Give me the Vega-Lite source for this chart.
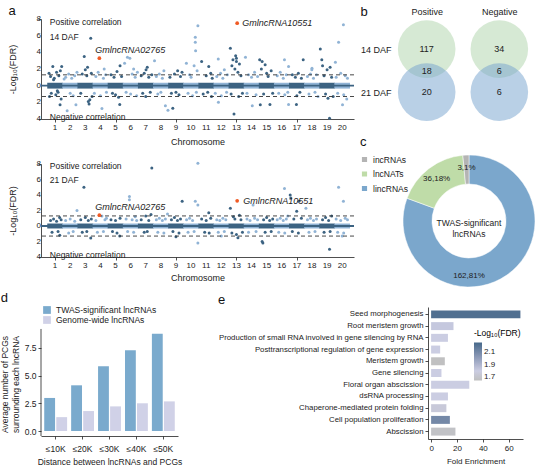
{
"$schema": "https://vega.github.io/schema/vega-lite/v6.json",
"background": "white",
"padding": {"left": 0, "top": 5, "right": 0, "bottom": 0},
"config": {
 "font": "Liberation Sans",
 "view": {"stroke": null},
 "axis": {"grid": false, "domainColor": "#222", "tickColor": "#222", "labelColor": "#222", "titleColor": "#222", "labelFontSize": 8, "titleFontSize": 9, "titleFontWeight": "normal", "tickSize": 3, "domainWidth": 0.8, "tickWidth": 0.8},
 "title": {"fontSize": 13, "fontWeight": "normal", "anchor": "start", "frame": "bounds", "color": "#111"},
 "legend": {"labelFontSize": 8.5, "labelColor": "#222"},
 "text": {"color": "#222"}
},
"datasets": {
 "one": [{}],
 "chroms": [{"c":1},{"c":2},{"c":3},{"c":4},{"c":5},{"c":6},{"c":7},{"c":8},{"c":9},{"c":10},{"c":11},{"c":12},{"c":13},{"c":14},{"c":15},{"c":16},{"c":17},{"c":18},{"c":19},{"c":20}],
 "yt": [{"t":-4,"lab":"4"},{"t":-2,"lab":"2"},{"t":0,"lab":"0"},{"t":2,"lab":"2"},{"t":4,"lab":"4"},{"t":6,"lab":"6"},{"t":8,"lab":"8"}],
 "m14": [
{"c":1,"x":0.85,"v":2.3},{"c":1,"x":1.44,"v":2.3},{"c":1,"x":0.63,"v":-1.3},{"c":1,"x":1.33,"v":-2.3},{"c":1,"x":0.6,"v":1.5},{"c":1,"x":0.7,"v":1.1},{"c":1,"x":0.95,"v":0.9},{"c":1,"x":1.1,"v":1.6},{"c":1,"x":1.25,"v":1.2},{"c":1,"x":1.35,"v":1.8},{"c":1,"x":0.75,"v":-0.9},{"c":1,"x":1.05,"v":-1.1},{"c":1,"x":1.2,"v":-0.8},{"c":1,"x":1.4,"v":-1.6},{"c":1,"x":0.9,"v":0.7},{"c":1,"x":1.15,"v":-0.6},
{"c":2,"x":1.8,"v":-3.0},{"c":2,"x":2.38,"v":-2.3},{"c":2,"x":1.7,"v":1.0},{"c":2,"x":1.9,"v":1.4},{"c":2,"x":2.1,"v":0.9},{"c":2,"x":2.3,"v":1.2},{"c":2,"x":2.0,"v":-0.9},{"c":2,"x":2.2,"v":-1.2},{"c":2,"x":1.6,"v":0.8},{"c":2,"x":2.45,"v":1.6},
{"c":3,"x":3.36,"v":5.7},{"c":3,"x":2.93,"v":3.5},{"c":3,"x":3.3,"v":-1.7},{"c":3,"x":3.2,"v":-1.9},{"c":3,"x":2.8,"v":1.4},{"c":3,"x":3.0,"v":1.9},{"c":3,"x":3.1,"v":1.2},{"c":3,"x":3.4,"v":1.5},{"c":3,"x":2.7,"v":-0.9},{"c":3,"x":3.25,"v":-2.2},{"c":3,"x":3.45,"v":-1.3},{"c":3,"x":3.15,"v":2.2},
{"c":4,"x":4.1,"v":-2.75},{"c":4,"x":3.7,"v":1.1},{"c":4,"x":3.85,"v":1.6},{"c":4,"x":4.2,"v":0.9},{"c":4,"x":4.35,"v":1.3},{"c":4,"x":3.6,"v":-0.9},{"c":4,"x":4.0,"v":-1.2},{"c":4,"x":4.4,"v":-0.8},{"c":4,"x":4.25,"v":2.0},
{"c":5,"x":5.28,"v":-2.25},{"c":5,"x":4.7,"v":1.3},{"c":5,"x":4.9,"v":1.0},{"c":5,"x":5.1,"v":1.7},{"c":5,"x":5.3,"v":2.4},{"c":5,"x":5.4,"v":1.1},{"c":5,"x":4.8,"v":-0.9},{"c":5,"x":5.0,"v":-1.1},{"c":5,"x":5.2,"v":-1.4},
{"c":6,"x":5.79,"v":3.4},{"c":6,"x":5.95,"v":3.3},{"c":6,"x":5.6,"v":2.7},{"c":6,"x":6.1,"v":1.4},{"c":6,"x":6.3,"v":1.0},{"c":6,"x":6.2,"v":2.0},{"c":6,"x":5.7,"v":-0.8},{"c":6,"x":6.0,"v":-1.0},{"c":6,"x":6.4,"v":-1.2},{"c":6,"x":6.45,"v":1.6},
{"c":7,"x":7.02,"v":1.9},{"c":7,"x":6.7,"v":1.2},{"c":7,"x":6.9,"v":1.5},{"c":7,"x":7.1,"v":2.2},{"c":7,"x":7.2,"v":1.0},{"c":7,"x":7.4,"v":1.3},{"c":7,"x":6.8,"v":-0.9},{"c":7,"x":7.0,"v":-1.3},{"c":7,"x":7.3,"v":-0.8},
{"c":8,"x":7.58,"v":3.0},{"c":8,"x":8.3,"v":-2.4},{"c":8,"x":8.47,"v":-2.95},{"c":8,"x":7.7,"v":1.1},{"c":8,"x":7.9,"v":1.4},{"c":8,"x":8.1,"v":0.9},{"c":8,"x":8.2,"v":1.8},{"c":8,"x":7.8,"v":-1.0},{"c":8,"x":8.0,"v":-0.8},
{"c":9,"x":8.79,"v":-2.7},{"c":9,"x":9.11,"v":1.8},{"c":9,"x":8.6,"v":1.0},{"c":9,"x":8.9,"v":1.4},{"c":9,"x":9.3,"v":1.1},{"c":9,"x":9.4,"v":1.6},{"c":9,"x":8.7,"v":-0.9},{"c":9,"x":9.2,"v":-1.1},{"c":9,"x":9.0,"v":-0.8},
{"c":10,"x":9.69,"v":2.7},{"c":10,"x":10.28,"v":5.8},{"c":10,"x":10.28,"v":5.2},{"c":10,"x":10.3,"v":4.2},{"c":10,"x":10.45,"v":7.2},{"c":10,"x":10.2,"v":2.4},{"c":10,"x":10.4,"v":1.8},{"c":10,"x":9.9,"v":1.3},{"c":10,"x":10.0,"v":1.0},{"c":10,"x":9.8,"v":-0.9},{"c":10,"x":10.1,"v":-1.2},{"c":10,"x":10.35,"v":-0.8},
{"c":11,"x":10.7,"v":2.9},{"c":11,"x":11.17,"v":2.3},{"c":11,"x":11.0,"v":1.2},{"c":11,"x":11.3,"v":1.5},{"c":11,"x":11.4,"v":0.9},{"c":11,"x":10.8,"v":-1.0},{"c":11,"x":11.1,"v":-0.8},{"c":11,"x":11.35,"v":-1.3},
{"c":12,"x":11.8,"v":3.2},{"c":12,"x":11.81,"v":-2.0},{"c":12,"x":11.7,"v":1.1},{"c":12,"x":11.95,"v":1.5},{"c":12,"x":12.1,"v":0.9},{"c":12,"x":12.2,"v":1.9},{"c":12,"x":12.4,"v":1.3},{"c":12,"x":11.6,"v":-0.9},{"c":12,"x":12.0,"v":-1.2},{"c":12,"x":12.35,"v":-0.8},
{"c":13,"x":12.6,"v":4.5},{"c":13,"x":12.77,"v":3.1},{"c":13,"x":13.0,"v":3.3},{"c":13,"x":13.0,"v":2.9},{"c":13,"x":12.84,"v":-3.4},{"c":13,"x":12.7,"v":2.4},{"c":13,"x":12.9,"v":2.0},{"c":13,"x":13.1,"v":1.6},{"c":13,"x":13.2,"v":2.6},{"c":13,"x":13.3,"v":1.2},{"c":13,"x":12.65,"v":-1.0},{"c":13,"x":13.15,"v":-1.3},{"c":13,"x":13.4,"v":-0.9},{"c":13,"x":12.95,"v":3.6},
{"c":14,"x":13.6,"v":3.4},{"c":14,"x":14.05,"v":-2.4},{"c":14,"x":13.8,"v":1.3},{"c":14,"x":14.0,"v":1.0},{"c":14,"x":14.2,"v":1.6},{"c":14,"x":14.4,"v":1.1},{"c":14,"x":13.7,"v":-0.9},{"c":14,"x":14.3,"v":-1.1},
{"c":15,"x":14.54,"v":3.1},{"c":15,"x":14.7,"v":2.9},{"c":15,"x":14.9,"v":2.5},{"c":15,"x":14.58,"v":-2.3},{"c":15,"x":15.22,"v":-2.25},{"c":15,"x":15.0,"v":1.5},{"c":15,"x":15.1,"v":1.1},{"c":15,"x":15.3,"v":1.8},{"c":15,"x":14.8,"v":-1.0},{"c":15,"x":15.4,"v":-0.9},{"c":15,"x":14.65,"v":2.0},
{"c":16,"x":16.18,"v":3.1},{"c":16,"x":16.45,"v":2.3},{"c":16,"x":15.7,"v":1.2},{"c":16,"x":15.9,"v":1.6},{"c":16,"x":16.1,"v":0.9},{"c":16,"x":16.3,"v":1.3},{"c":16,"x":15.8,"v":-0.9},{"c":16,"x":16.2,"v":-1.1},{"c":16,"x":16.4,"v":-0.8},{"c":16,"x":16.45,"v":-2.25},
{"c":17,"x":16.97,"v":-2.25},{"c":17,"x":17.42,"v":3.1},{"c":17,"x":16.7,"v":1.3},{"c":17,"x":16.9,"v":1.0},{"c":17,"x":17.1,"v":1.5},{"c":17,"x":17.3,"v":0.9},{"c":17,"x":17.0,"v":-1.2},{"c":17,"x":17.2,"v":-0.8},
{"c":18,"x":17.99,"v":1.9},{"c":18,"x":17.7,"v":1.1},{"c":18,"x":17.9,"v":1.4},{"c":18,"x":18.1,"v":0.9},{"c":18,"x":18.3,"v":1.3},{"c":18,"x":17.8,"v":-1.0},{"c":18,"x":18.2,"v":-0.8},{"c":18,"x":18.4,"v":-1.3},{"c":18,"x":18.0,"v":2.1},
{"c":19,"x":18.55,"v":4.4},{"c":19,"x":18.65,"v":3.1},{"c":19,"x":19.16,"v":-3.9},{"c":19,"x":19.06,"v":-1.5},{"c":19,"x":18.8,"v":1.2},{"c":19,"x":19.0,"v":1.9},{"c":19,"x":19.2,"v":2.2},{"c":19,"x":19.3,"v":1.0},{"c":19,"x":18.9,"v":-1.0},{"c":19,"x":19.4,"v":-1.3},{"c":19,"x":18.7,"v":2.4},
{"c":20,"x":20.08,"v":7.3},{"c":20,"x":19.76,"v":5.2},{"c":20,"x":20.02,"v":-2.3},{"c":20,"x":19.55,"v":2.8},{"c":20,"x":19.6,"v":1.0},{"c":20,"x":19.9,"v":1.5},{"c":20,"x":20.2,"v":1.2},{"c":20,"x":20.35,"v":0.9},{"c":20,"x":19.7,"v":-0.9},{"c":20,"x":20.1,"v":-1.1},{"c":20,"x":20.3,"v":-1.6}
 ],
 "m21": [
{"c":1,"x":1.31,"v":-1.2},{"c":1,"x":0.7,"v":0.7},{"c":1,"x":0.9,"v":0.9},{"c":1,"x":1.1,"v":0.6},{"c":1,"x":1.3,"v":1.1},{"c":1,"x":1.2,"v":-0.7},{"c":1,"x":0.8,"v":-0.8},{"c":1,"x":1.4,"v":0.8},
{"c":2,"x":2.45,"v":2.0},{"c":2,"x":1.7,"v":0.7},{"c":2,"x":2.0,"v":0.9},{"c":2,"x":2.2,"v":-0.7},{"c":2,"x":1.9,"v":-0.9},{"c":2,"x":2.3,"v":0.6},
{"c":3,"x":2.91,"v":5.0},{"c":3,"x":3.36,"v":-1.55},{"c":3,"x":2.7,"v":0.8},{"c":3,"x":3.0,"v":1.1},{"c":3,"x":3.2,"v":0.7},{"c":3,"x":3.4,"v":0.9},{"c":3,"x":2.8,"v":-0.8},{"c":3,"x":3.1,"v":-0.7},
{"c":4,"x":4.1,"v":1.3},{"c":4,"x":3.7,"v":0.7},{"c":4,"x":4.3,"v":0.8},{"c":4,"x":3.8,"v":-0.8},{"c":4,"x":4.2,"v":-0.7},{"c":4,"x":4.4,"v":1.0},
{"c":5,"x":5.28,"v":-1.3},{"c":5,"x":4.7,"v":0.8},{"c":5,"x":5.0,"v":0.7},{"c":5,"x":5.3,"v":1.0},{"c":5,"x":4.8,"v":-0.7},{"c":5,"x":5.1,"v":-0.9},
{"c":6,"x":5.92,"v":3.8},{"c":6,"x":5.92,"v":3.4},{"c":6,"x":5.7,"v":0.9},{"c":6,"x":6.1,"v":0.8},{"c":6,"x":6.3,"v":1.2},{"c":6,"x":5.8,"v":-0.7},{"c":6,"x":6.2,"v":-0.8},{"c":6,"x":6.4,"v":0.7},
{"c":7,"x":7.4,"v":7.5},{"c":7,"x":7.35,"v":1.5},{"c":7,"x":6.7,"v":0.8},{"c":7,"x":7.0,"v":1.3},{"c":7,"x":7.2,"v":0.7},{"c":7,"x":6.9,"v":-0.8},{"c":7,"x":7.1,"v":-0.7},
{"c":8,"x":8.44,"v":1.55},{"c":8,"x":7.7,"v":0.8},{"c":8,"x":7.9,"v":1.0},{"c":8,"x":8.1,"v":0.7},{"c":8,"x":8.3,"v":0.9},{"c":8,"x":7.8,"v":-0.8},{"c":8,"x":8.2,"v":-0.9},
{"c":9,"x":9.41,"v":3.2},{"c":9,"x":8.7,"v":0.8},{"c":9,"x":8.9,"v":1.1},{"c":9,"x":9.1,"v":0.7},{"c":9,"x":9.3,"v":0.9},{"c":9,"x":8.8,"v":-0.7},{"c":9,"x":9.2,"v":-0.9},{"c":9,"x":9.0,"v":-1.4},
{"c":10,"x":10.28,"v":3.2},{"c":10,"x":10.45,"v":8.1},{"c":10,"x":10.45,"v":2.7},{"c":10,"x":10.45,"v":-2.2},{"c":10,"x":9.7,"v":0.8},{"c":10,"x":9.9,"v":1.0},{"c":10,"x":10.1,"v":0.7},{"c":10,"x":9.8,"v":-0.8},{"c":10,"x":10.2,"v":-0.7},
{"c":11,"x":11.17,"v":1.7},{"c":11,"x":10.7,"v":0.9},{"c":11,"x":11.0,"v":0.7},{"c":11,"x":11.3,"v":1.0},{"c":11,"x":10.9,"v":-0.8},{"c":11,"x":11.2,"v":-0.9},
{"c":12,"x":11.7,"v":0.8},{"c":12,"x":11.9,"v":0.7},{"c":12,"x":12.1,"v":1.0},{"c":12,"x":12.3,"v":0.8},{"c":12,"x":11.8,"v":-0.8},{"c":12,"x":12.2,"v":-0.7},{"c":12,"x":12.0,"v":-1.3},
{"c":13,"x":12.6,"v":2.3},{"c":13,"x":13.1,"v":-1.5},{"c":13,"x":12.8,"v":1.2},{"c":13,"x":12.9,"v":0.9},{"c":13,"x":13.2,"v":1.4},{"c":13,"x":13.3,"v":0.8},{"c":13,"x":12.7,"v":-0.9},{"c":13,"x":13.4,"v":-0.8},{"c":13,"x":13.0,"v":-1.1},
{"c":14,"x":14.1,"v":2.7},{"c":14,"x":13.7,"v":0.9},{"c":14,"x":13.9,"v":0.7},{"c":14,"x":14.2,"v":1.0},{"c":14,"x":14.4,"v":0.8},{"c":14,"x":13.8,"v":-0.8},{"c":14,"x":14.3,"v":-0.7},
{"c":15,"x":14.7,"v":-2.0},{"c":15,"x":14.75,"v":-2.2},{"c":15,"x":14.8,"v":0.8},{"c":15,"x":15.0,"v":1.1},{"c":15,"x":15.2,"v":0.7},{"c":15,"x":15.4,"v":0.9},{"c":15,"x":14.9,"v":-0.8},{"c":15,"x":15.3,"v":-0.7},
{"c":16,"x":16.18,"v":4.85},{"c":16,"x":16.4,"v":1.3},{"c":16,"x":15.7,"v":0.8},{"c":16,"x":15.9,"v":1.0},{"c":16,"x":16.1,"v":0.7},{"c":16,"x":16.3,"v":0.9},{"c":16,"x":15.8,"v":-0.8},{"c":16,"x":16.2,"v":-0.9},
{"c":17,"x":16.56,"v":4.0},{"c":17,"x":16.6,"v":3.6},{"c":17,"x":17.14,"v":3.2},{"c":17,"x":16.99,"v":1.9},{"c":17,"x":16.8,"v":0.9},{"c":17,"x":17.3,"v":1.0},{"c":17,"x":16.7,"v":-0.7},{"c":17,"x":17.1,"v":-0.9},
{"c":18,"x":17.6,"v":2.3},{"c":18,"x":17.7,"v":0.8},{"c":18,"x":17.9,"v":1.0},{"c":18,"x":18.1,"v":0.7},{"c":18,"x":18.3,"v":0.9},{"c":18,"x":17.8,"v":-0.8},{"c":18,"x":18.2,"v":-0.7},
{"c":19,"x":19.16,"v":-3.0},{"c":19,"x":18.7,"v":0.8},{"c":19,"x":18.9,"v":1.1},{"c":19,"x":19.1,"v":0.7},{"c":19,"x":19.3,"v":1.3},{"c":19,"x":18.8,"v":-0.8},{"c":19,"x":19.2,"v":-0.7},
{"c":20,"x":19.76,"v":5.0},{"c":20,"x":20.08,"v":3.2},{"c":20,"x":20.0,"v":-1.3},{"c":20,"x":19.6,"v":0.9},{"c":20,"x":19.9,"v":0.7},{"c":20,"x":20.2,"v":1.0},{"c":20,"x":20.35,"v":0.8},{"c":20,"x":19.7,"v":-0.8},{"c":20,"x":20.1,"v":-0.9}
 ],
 "hl14": [{"name":"GmlncRNA02765","x":3.93,"v":3.3},{"name":"GmlncRNA10551","x":13.05,"v":7.5}],
 "hl21": [{"name":"GmlncRNA02765","x":3.93,"v":1.4},{"name":"GmlncRNA10551","x":13.05,"v":3.25}],
 "venn": [{"set":"Positive","stage":"14 DAF","n":117},{"set":"Positive","stage":"both","n":18},{"set":"Positive","stage":"21 DAF","n":20},{"set":"Negative","stage":"14 DAF","n":34},{"set":"Negative","stage":"both","n":6},{"set":"Negative","stage":"21 DAF","n":6}],
 "donut": [{"type":"lincRNAs","n":162,"lab":"162,81%"},{"type":"lncNATs","n":36,"lab":"36,18%"},{"type":"incRNAs","n":3,"lab":"3,1%"}],
 "dist": [
  {"dist":"≤10K","set":"TWAS-significant lncRNAs","avg":2.98},{"dist":"≤10K","set":"Genome-wide lncRNAs","avg":1.25},
  {"dist":"≤20K","set":"TWAS-significant lncRNAs","avg":4.12},{"dist":"≤20K","set":"Genome-wide lncRNAs","avg":1.8},
  {"dist":"≤30K","set":"TWAS-significant lncRNAs","avg":5.84},{"dist":"≤30K","set":"Genome-wide lncRNAs","avg":2.22},
  {"dist":"≤40K","set":"TWAS-significant lncRNAs","avg":7.28},{"dist":"≤40K","set":"Genome-wide lncRNAs","avg":2.5},
  {"dist":"≤50K","set":"TWAS-significant lncRNAs","avg":8.76},{"dist":"≤50K","set":"Genome-wide lncRNAs","avg":2.67}
 ],
 "go": [
  {"term":"Seed morphogenesis","fe":69,"fdr":2.22},
  {"term":"Root meristem growth","fe":17.3,"fdr":1.82},
  {"term":"Production of small RNA involved in gene silencing by RNA","fe":13,"fdr":1.8},
  {"term":"Posttranscriptional regulation of gene expression","fe":7,"fdr":1.8},
  {"term":"Meristem growth","fe":10.6,"fdr":1.66},
  {"term":"Gene silencing","fe":8,"fdr":1.8},
  {"term":"Floral organ abscission","fe":29.5,"fdr":1.8},
  {"term":"dsRNA processing","fe":13,"fdr":1.8},
  {"term":"Chaperone-mediated protein folding","fe":11.8,"fdr":1.76},
  {"term":"Cell population proliferation","fe":14.5,"fdr":2.1},
  {"term":"Abscission","fe":18.8,"fdr":1.68}
 ]
},
"resolve": {"scale": {"color": "independent"}},
"vconcat": [
 {"resolve": {"scale": {"color": "independent"}},
  "hconcat": [
  {"vconcat": [
   {"title": {"text": "a", "offset": -3},
    "width": 313, "height": 100,
    "layer": [
     {"data": {"name": "chroms"}, "mark": {"type": "bar", "size": 15.65},
      "encoding": {
       "x": {"field": "c", "type": "quantitative", "scale": {"domain": [0.4, 20.45], "nice": false, "zero": false},
             "axis": {"title": "Chromosome", "values": [1,2,3,4,5,6,7,8,9,10,11,12,13,14,15,16,17,18,19,20], "labels": false, "titlePadding": 15}},
       "y": {"datum": -0.35, "type": "quantitative", "scale": {"domain": [-4, 8], "nice": false, "zero": false},
             "axis": {"title": "-Log₁₀(FDR)", "values": [-4,-2,0,2,4,6,8], "labels": false, "titlePadding": 20}},
       "y2": {"datum": 0.35},
       "color": {"condition": {"test": "datum.c % 2 === 1", "value": "#3c6382"}, "value": "#90b3d5"}}},
     {"data": {"name": "chroms"}, "mark": {"type": "text", "fontSize": 8, "baseline": "top", "dy": 5},
      "encoding": {"x": {"field": "c", "type": "quantitative"}, "y": {"datum": -4}, "text": {"field": "c"}}},
     {"data": {"name": "yt"}, "mark": {"type": "text", "fontSize": 8, "align": "right", "baseline": "middle", "dx": -5},
      "encoding": {"x": {"datum": 0.4}, "y": {"field": "t", "type": "quantitative"}, "text": {"field": "lab"}}},
     {"data": {"name": "m14"}, "mark": {"type": "circle", "size": 9, "opacity": 1},
      "encoding": {"x": {"field": "x", "type": "quantitative"}, "y": {"field": "v", "type": "quantitative"},
       "color": {"condition": {"test": "datum.c % 2 === 1", "value": "#3c6382"}, "value": "#90b3d5"}}},
     {"data": {"name": "one"}, "mark": {"type": "rule", "color": "#3c6382", "strokeWidth": 1.8}, "encoding": {"y": {"datum": 0}}},
     {"data": {"name": "one"}, "mark": {"type": "rule", "color": "#333", "strokeWidth": 0.9, "strokeDash": [4, 3]}, "encoding": {"y": {"datum": 1.3}}},
     {"data": {"name": "one"}, "mark": {"type": "rule", "color": "#333", "strokeWidth": 0.9, "strokeDash": [4, 3]}, "encoding": {"y": {"datum": -1.3}}},
     {"data": {"name": "hl14"}, "mark": {"type": "circle", "size": 14, "opacity": 1, "color": "#f05a24"},
      "encoding": {"x": {"field": "x", "type": "quantitative"}, "y": {"field": "v", "type": "quantitative"}}},
     {"data": {"name": "hl14"}, "transform": [{"filter": "datum.name === 'GmlncRNA02765'"}],
      "mark": {"type": "text", "align": "left", "dx": -4, "dy": -8, "fontSize": 9, "fontStyle": "italic"},
      "encoding": {"x": {"field": "x", "type": "quantitative"}, "y": {"field": "v", "type": "quantitative"}, "text": {"field": "name"}}},
     {"data": {"name": "hl14"}, "transform": [{"filter": "datum.name === 'GmlncRNA10551'"}],
      "mark": {"type": "text", "align": "left", "dx": 5, "dy": 0, "fontSize": 9, "fontStyle": "italic"},
      "encoding": {"x": {"field": "x", "type": "quantitative"}, "y": {"field": "v", "type": "quantitative"}, "text": {"field": "name"}}},
     {"data": {"name": "one"}, "mark": {"type": "text", "align": "left", "fontSize": 8.5}, "encoding": {"x": {"datum": 0.65}, "y": {"datum": 7.6}, "text": {"value": "Positive correlation"}}},
     {"data": {"name": "one"}, "mark": {"type": "text", "align": "left", "fontSize": 8.5}, "encoding": {"x": {"datum": 0.65}, "y": {"datum": 5.9}, "text": {"value": "14 DAF"}}},
     {"data": {"name": "one"}, "mark": {"type": "text", "align": "left", "fontSize": 8.5}, "encoding": {"x": {"datum": 0.65}, "y": {"datum": -3.75}, "text": {"value": "Negative correlation"}}}
    ]},
   {"width": 313, "height": 93,
    "layer": [
     {"data": {"name": "chroms"}, "mark": {"type": "bar", "size": 15.65},
      "encoding": {
       "x": {"field": "c", "type": "quantitative", "scale": {"domain": [0.4, 20.45], "nice": false, "zero": false},
             "axis": {"title": "Chromosome", "values": [1,2,3,4,5,6,7,8,9,10,11,12,13,14,15,16,17,18,19,20], "labels": false, "titlePadding": 13}},
       "y": {"datum": -0.32, "type": "quantitative", "scale": {"domain": [-4, 8], "nice": false, "zero": false},
             "axis": {"title": "-Log₁₀(FDR)", "values": [-4,-2,0,2,4,6,8], "labels": false, "titlePadding": 20}},
       "y2": {"datum": 0.32},
       "color": {"condition": {"test": "datum.c % 2 === 1", "value": "#3c6382"}, "value": "#90b3d5"}}},
     {"data": {"name": "chroms"}, "mark": {"type": "text", "fontSize": 8, "baseline": "top", "dy": 5},
      "encoding": {"x": {"field": "c", "type": "quantitative"}, "y": {"datum": -4}, "text": {"field": "c"}}},
     {"data": {"name": "yt"}, "mark": {"type": "text", "fontSize": 8, "align": "right", "baseline": "middle", "dx": -5},
      "encoding": {"x": {"datum": 0.4}, "y": {"field": "t", "type": "quantitative"}, "text": {"field": "lab"}}},
     {"data": {"name": "m21"}, "mark": {"type": "circle", "size": 9, "opacity": 1},
      "encoding": {"x": {"field": "x", "type": "quantitative"}, "y": {"field": "v", "type": "quantitative"},
       "color": {"condition": {"test": "datum.c % 2 === 1", "value": "#3c6382"}, "value": "#90b3d5"}}},
     {"data": {"name": "one"}, "mark": {"type": "rule", "color": "#3c6382", "strokeWidth": 1.8}, "encoding": {"y": {"datum": 0}}},
     {"data": {"name": "one"}, "mark": {"type": "rule", "color": "#333", "strokeWidth": 0.9, "strokeDash": [4, 3]}, "encoding": {"y": {"datum": 1.3}}},
     {"data": {"name": "one"}, "mark": {"type": "rule", "color": "#333", "strokeWidth": 0.9, "strokeDash": [4, 3]}, "encoding": {"y": {"datum": -1.3}}},
     {"data": {"name": "hl21"}, "mark": {"type": "circle", "size": 14, "opacity": 1, "color": "#f05a24"},
      "encoding": {"x": {"field": "x", "type": "quantitative"}, "y": {"field": "v", "type": "quantitative"}}},
     {"data": {"name": "hl21"}, "transform": [{"filter": "datum.name === 'GmlncRNA02765'"}],
      "mark": {"type": "text", "align": "left", "dx": -4, "dy": -8, "fontSize": 9, "fontStyle": "italic"},
      "encoding": {"x": {"field": "x", "type": "quantitative"}, "y": {"field": "v", "type": "quantitative"}, "text": {"field": "name"}}},
     {"data": {"name": "hl21"}, "transform": [{"filter": "datum.name === 'GmlncRNA10551'"}],
      "mark": {"type": "text", "align": "left", "dx": 6, "dy": 0, "fontSize": 9, "fontStyle": "italic"},
      "encoding": {"x": {"field": "x", "type": "quantitative"}, "y": {"field": "v", "type": "quantitative"}, "text": {"field": "name"}}},
     {"data": {"name": "one"}, "mark": {"type": "text", "align": "left", "fontSize": 8.5}, "encoding": {"x": {"datum": 0.65}, "y": {"datum": 7.7}, "text": {"value": "Positive correlation"}}},
     {"data": {"name": "one"}, "mark": {"type": "text", "align": "left", "fontSize": 8.5}, "encoding": {"x": {"datum": 0.65}, "y": {"datum": 5.9}, "text": {"value": "21 DAF"}}},
     {"data": {"name": "one"}, "mark": {"type": "text", "align": "left", "fontSize": 8.5}, "encoding": {"x": {"datum": 0.65}, "y": {"datum": -3.75}, "text": {"value": "Negative correlation"}}}
    ]}
  ], "spacing": 13},
  {"resolve": {"scale": {"color": "independent"}},
   "vconcat": [
   {"title": {"text": "b", "offset": -12},
    "width": 138, "height": 86,
    "data": {"name": "venn"},
    "layer": [
     {"transform": [{"filter": "datum.stage !== 'both'"}],
      "mark": {"type": "circle", "size": 3318, "opacity": 0.5},
      "encoding": {
       "x": {"field": "set", "type": "nominal", "scale": {"type": "point", "domain": ["Positive", "Negative"], "padding": 0.45},
             "axis": {"orient": "top", "title": null, "domain": false, "ticks": false, "labelAngle": 0, "labelFontSize": 9, "labelPadding": 3}},
       "y": {"field": "stage", "type": "nominal", "scale": {"type": "point", "domain": ["14 DAF", "both", "21 DAF"], "padding": 1, "align": 0.7},
             "axis": {"title": null, "domain": false, "ticks": false, "labelFontSize": 9, "labelPadding": 3, "labelExpr": "datum.value === 'both' ? '' : datum.value"}},
       "color": {"field": "stage", "type": "nominal", "scale": {"domain": ["14 DAF", "21 DAF"], "range": ["#add3a9", "#73a1cd"]}, "legend": null}}},
     {"mark": {"type": "text", "fontSize": 9},
      "encoding": {"x": {"field": "set", "type": "nominal"}, "y": {"field": "stage", "type": "nominal"}, "text": {"field": "n"}}}
    ]},
   {"title": {"text": "c", "offset": 5},
    "width": 150, "height": 130,
    "data": {"name": "donut"},
    "layer": [
     {"mark": {"type": "arc", "innerRadius": 37, "outerRadius": 66, "stroke": "white", "strokeWidth": 0.5},
      "encoding": {
       "theta": {"field": "n", "type": "quantitative", "stack": true},
       "order": {"field": "n", "type": "quantitative", "sort": "descending"},
       "color": {"field": "type", "type": "nominal", "scale": {"domain": ["incRNAs", "lncNATs", "lincRNAs"], "range": ["#b4b4b4", "#bfdca8", "#7ba7cc"]},
                 "legend": {"orient": "none", "legendX": -34, "legendY": -1, "title": null, "symbolType": "square", "symbolSize": 45, "labelFontSize": 8.5, "rowPadding": 1.5}}}},
     {"mark": {"type": "text", "fontSize": 8, "radius": 53},
      "encoding": {"theta": {"field": "n", "type": "quantitative", "stack": true}, "order": {"field": "n", "type": "quantitative", "sort": "descending"},
                   "text": {"condition": {"test": "datum.type === 'lincRNAs'", "value": ""}, "field": "lab"}}},
     {"transform": [{"filter": "datum.type === 'lincRNAs'"}],
      "mark": {"type": "text", "fontSize": 8, "dy": 55},
      "encoding": {"text": {"field": "lab"}}},
     {"transform": [{"filter": "datum.type === 'lincRNAs'"}],
      "mark": {"type": "text", "fontSize": 8.5, "dy": 2, "lineHeight": 11},
      "encoding": {"text": {"value": ["TWAS-significant", "lncRNAs"]}}}
    ]}
  ], "spacing": 15}
 ], "spacing": 5},
 {"resolve": {"scale": {"color": "independent"}},
  "hconcat": [
  {"title": {"text": "d", "offset": 0},
   "width": 137, "height": 129,
   "layer": [
    {"data": {"name": "dist"},
     "mark": {"type": "bar"},
     "encoding": {
      "x": {"field": "dist", "type": "nominal", "sort": ["≤10K", "≤20K", "≤30K", "≤40K", "≤50K"], "scale": {"paddingInner": 0.15, "paddingOuter": 0.12},
            "axis": {"title": "Distance between lncRNAs and PCGs", "labelAngle": 0, "labelFontSize": 8.5, "titleFontSize": 8.5, "labelPadding": 5, "titlePadding": 5}},
      "xOffset": {"field": "set", "type": "nominal", "sort": ["TWAS-significant lncRNAs", "Genome-wide lncRNAs"], "scale": {"paddingInner": 0.1}},
      "y": {"field": "avg", "type": "quantitative", "scale": {"domain": [-0.45, 11.18], "nice": false, "zero": false},
            "axis": {"title": ["Average number of PCGs", "surrounding each lncRNA"], "values": [0, 2.5, 5, 7.5], "format": ".1f", "domain": false, "titleFontSize": 8.5, "labelFontSize": 8.5, "titleY": 77}},
      "color": {"field": "set", "type": "nominal", "scale": {"domain": ["TWAS-significant lncRNAs", "Genome-wide lncRNAs"], "range": ["#7aaacd", "#d0d1e7"]},
                "legend": {"orient": "none", "legendX": 1, "legendY": -2, "direction": "vertical", "title": null, "symbolType": "square", "symbolSize": 60, "labelFontSize": 8.5, "rowPadding": 0}}
     }},
    {"data": {"name": "one"}, "mark": {"type": "rule", "color": "#222", "strokeWidth": 0.8},
     "encoding": {"x": {"datum": 0, "type": "quantitative", "scale": {"domain": [0, 1]}, "axis": null}, "y": {"datum": -0.45}, "y2": {"datum": 9.2}}}
   ],
   "resolve": {"scale": {"x": "independent"}}},
  {"title": {"text": "e", "offset": 0},
   "width": 95, "height": 132,
   "data": {"name": "go"},
   "mark": {"type": "bar"},
   "encoding": {
    "y": {"field": "term", "type": "nominal", "sort": ["Seed morphogenesis", "Root meristem growth", "Production of small RNA involved in gene silencing by RNA", "Posttranscriptional regulation of gene expression", "Meristem growth", "Gene silencing", "Floral organ abscission", "dsRNA processing", "Chaperone-mediated protein folding", "Cell population proliferation", "Abscission"],
          "scale": {"paddingInner": 0.32, "paddingOuter": 0.29},
          "axis": {"title": null, "labelFontSize": 7.8, "labelLimit": 0, "labelPadding": 2}},
    "x": {"field": "fe", "type": "quantitative", "scale": {"domain": [-2.4, 71], "nice": false, "zero": false},
          "axis": {"title": "Fold Enrichment", "values": [0, 20, 40, 60], "labelFontSize": 8, "titleFontSize": 8, "titlePadding": 5}},
    "color": {"field": "fdr", "type": "quantitative", "scale": {"domain": [1.65, 1.8, 2.25], "range": ["#bfbfbf", "#cbcde2", "#46698a"]},
              "legend": {"orient": "none", "legendX": 46, "legendY": 22, "title": "-Log₁₀(FDR)", "direction": "vertical", "gradientLength": 38, "gradientThickness": 8, "values": [1.7, 1.9, 2.1], "titleFontSize": 8.5, "titleFontWeight": "normal", "labelFontSize": 8}}
   }}
 ], "spacing": 36}
],
"spacing": 4
}
